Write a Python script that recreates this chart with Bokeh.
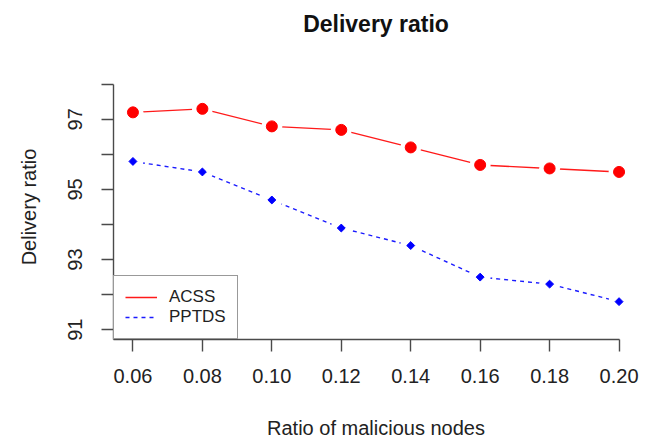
from bokeh.plotting import figure
from bokeh.models import (FixedTicker, PrintfTickFormatter, Legend, LegendItem, Range1d,
                          ColumnDataSource, LinearAxis)
from bokeh.embed import file_html
from bokeh.resources import INLINE
import math

# ---- data ----
ratio = [0.06, 0.08, 0.10, 0.12, 0.14, 0.16, 0.18, 0.20]
acss = [97.2, 97.3, 96.8, 96.7, 96.2, 95.7, 95.6, 95.5]
pptds = [95.8, 95.5, 94.7, 93.9, 93.4, 92.5, 92.3, 91.8]
series_names = ["ACSS", "PPTDS"]
x_ticks = [0.06, 0.08, 0.10, 0.12, 0.14, 0.16, 0.18, 0.20]
y_ticks = [91, 92, 93, 94, 95, 96, 97, 98]
y_tick_labels = ["91", "", "93", "", "95", "", "97", ""]
title_text = "Delivery ratio"
x_title = "Ratio of malicious nodes"
y_title = "Delivery ratio"

FONT = "Liberation Sans"
AXIS_COL = "#4a4a4a"

x0, x1 = min(x_ticks), max(x_ticks)
y0, y1 = min(y_ticks), max(y_ticks)
xpad = (x1 - x0) * 0.04
ypad = (y1 - y0) * 0.04

p = figure(width=650, height=441, output_backend="svg", toolbar_location=None,
           x_range=Range1d(x0 - xpad, x1 + xpad), y_range=Range1d(y0 - ypad, y1 + ypad),
           min_border_left=113, min_border_right=12, min_border_top=74, min_border_bottom=100,
           background_fill_color="white", border_fill_color="white")
p.outline_line_color = None
p.xgrid.grid_line_color = None
p.ygrid.grid_line_color = None
p.title.visible = False

# axes
for ax in (p.xaxis[0], p.yaxis[0]):
    ax.axis_line_color = AXIS_COL
    ax.axis_line_width = 1.4
    ax.major_tick_line_color = AXIS_COL
    ax.major_tick_line_width = 1.4
    ax.major_tick_out = 12
    ax.major_tick_in = 0
    ax.minor_tick_line_color = None
    ax.major_label_text_font = FONT
    ax.major_label_text_font_size = "20px"
    ax.major_label_text_color = "#222222"
    ax.axis_label_text_font = FONT
    ax.axis_label_text_font_size = "20px"
    ax.axis_label_text_font_style = "normal"
    ax.axis_label_text_color = "#222222"

p.xaxis.ticker = FixedTicker(ticks=x_ticks)
p.xaxis.formatter = PrintfTickFormatter(format="%.2f")
p.xaxis.bounds = (x0 - xpad, x1)
p.xaxis.major_label_standoff = 17
p.xaxis.axis_label = x_title
p.xaxis.axis_label_standoff = 31
p.xaxis.axis_label_text_line_height = 0.6

p.yaxis.ticker = FixedTicker(ticks=y_ticks)
p.yaxis.major_label_overrides = {t: lab for t, lab in zip(y_ticks, y_tick_labels)}
p.yaxis.major_label_orientation = "vertical"
p.yaxis.bounds = (y0 - ypad, y1)
p.yaxis.major_label_standoff = 19
p.yaxis.axis_label = y_title
p.yaxis.axis_label_standoff = 26

# chart title carried by a bare axis above the frame
title_axis = LinearAxis(ticker=FixedTicker(ticks=[]), axis_line_color=None,
                        major_tick_line_color=None, minor_tick_line_color=None,
                        major_tick_out=0, major_tick_in=0, major_label_standoff=0,
                        axis_label=title_text, axis_label_standoff=38,
                        axis_label_text_font=FONT, axis_label_text_font_style="bold",
                        axis_label_text_font_size="23px", axis_label_text_color="#111111")
p.add_layout(title_axis, "above")

src = ColumnDataSource(dict(x=ratio, a=acss, b=pptds))

# lines
la = p.line("x", "a", source=src, line_color="#ff1a1a", line_width=1.4)
lb = p.line("x", "b", source=src, line_color="#1a1aff", line_width=1.4, line_dash="4 4")

# white gaps around points (R type="b")
p.scatter("x", "a", source=src, marker="circle", size=21, fill_color="white", line_color=None)
p.scatter("x", "b", source=src, marker="circle", size=21, fill_color="white", line_color=None)

# markers
p.scatter("x", "a", source=src, marker="circle", size=11, fill_color="#ff0000", line_color="#ff0000")
p.scatter("x", "b", source=src, marker="square", size=5.6, angle=math.pi / 4,
          fill_color="#0000ff", line_color="#0000ff")

legend = Legend(items=[LegendItem(label=series_names[0], renderers=[la]),
                       LegendItem(label=series_names[1], renderers=[lb])],
                location=(0, 0), margin=0, padding=11, spacing=0,
                label_height=20, glyph_height=20, glyph_width=32, label_standoff=12,
                label_text_font=FONT, label_text_font_size="17px", label_text_color="#222222",
                border_line_color="#333333", border_line_width=1.3,
                background_fill_color="white", background_fill_alpha=1.0)
p.add_layout(legend, "center")

open("out.html", "w").write(file_html(p, INLINE))
